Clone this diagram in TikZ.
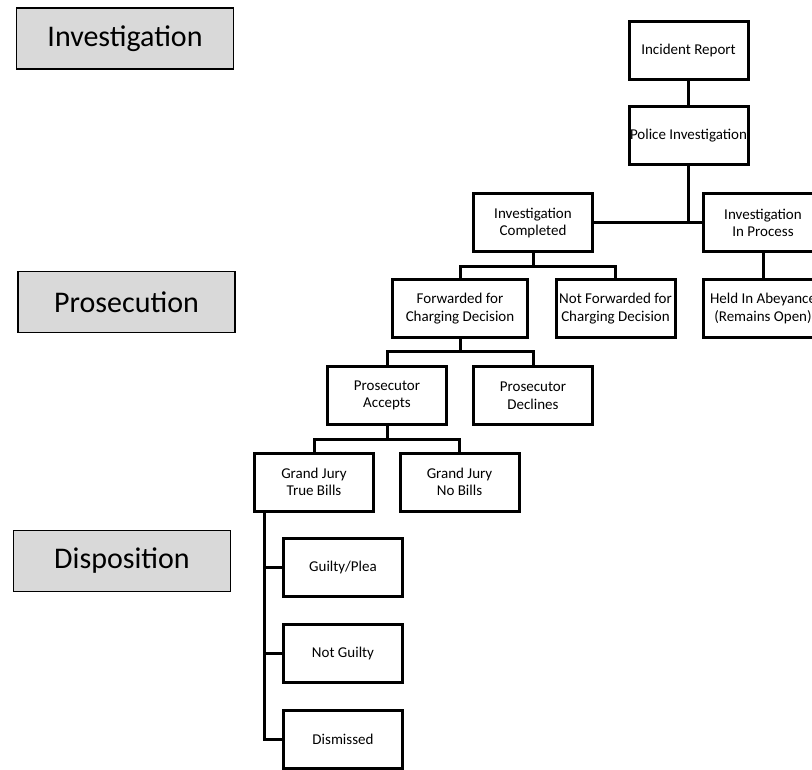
\documentclass[tikz,border=0pt]{standalone}
\usepackage{fontspec}
\setmainfont{Carlito}
\begin{document}
\begin{tikzpicture}[x=1pt,y=-1pt,
  box/.style={draw=black,line width=3pt,minimum width=119pt,minimum height=58pt,inner sep=0pt,align=center,font=\fontsize{15}{17.5}\selectfont},
  phase/.style={draw=black,line width=1.8pt,fill=phasegray,minimum width=217pt,minimum height=61pt,inner sep=0pt,font=\fontsize{30}{34}\selectfont},
  conn/.style={line width=3pt}]
\definecolor{phasegray}{HTML}{D9D9D9}
\useasboundingbox (0,0) rectangle (812,770);
\clip (0,0) rectangle (812,770);
% phase labels
\node[phase] (inv) at (125,38.5) {Investigation};
\node[phase] (pros) at (126.5,302) {Prosecution};
\node[phase] (disp) at (122,561) {Disposition};
% boxes
\node[box] (ir) at (688.5,50.5) {Incident Report};
\node[box] (pi) at (688.5,136) {Police Investigation};
\node[box] (ic) at (533,223) {Investigation\\Completed};
\node[box] (iip) at (763,223) {Investigation\\In Process};
\node[box,minimum width=135pt] (fcd) at (460,308.5) {Forwarded for\\Charging Decision};
\node[box] (nf) at (615.5,308.5) {Not Forwarded for\\Charging Decision};
\node[box] (ha) at (763,308.5) {Held In Abeyance\\(Remains Open)};
\node[box] (pa) at (387,395.5) {Prosecutor\\Accepts};
\node[box] (pd) at (533,395.5) {Prosecutor\\Declines};
\node[box] (gjtb) at (314,482) {Grand Jury\\True Bills};
\node[box] (gjnb) at (459.5,482) {Grand Jury\\No Bills};
\node[box] (gp) at (343,567.5) {Guilty/Plea};
\node[box] (ng) at (343,653.5) {Not Guilty};
\node[box] (dis) at (343,739.5) {Dismissed};
% connectors
\coordinate (j0) at (688.5,223);
\coordinate (j1) at (533,267);
\coordinate (j2) at (460,352);
\coordinate (j3) at (387,439);
\coordinate (t) at (264,482);
\draw[conn] (ir) -- (pi);
\draw[conn] (pi.south) -- (j0);
\draw[conn] (ic.east) -- (iip.west);
\draw[conn] (iip) -- (ha);
\draw[conn] (ic.south) -- (j1);
\draw[conn] (fcd.north) |- (j1) -| (nf.north);
\draw[conn] (fcd.south) -- (j2);
\draw[conn] (pa.north) |- (j2) -| (pd.north);
\draw[conn] (pa.south) -- (j3);
\draw[conn] (gjtb.north) |- (j3) -| (gjnb.north);
\draw[conn] (t |- gjtb.south) |- (gp.west);
\draw[conn] (t |- gjtb.south) |- (ng.west);
\draw[conn] (t |- gjtb.south) |- (dis.west);
\end{tikzpicture}
\end{document}
